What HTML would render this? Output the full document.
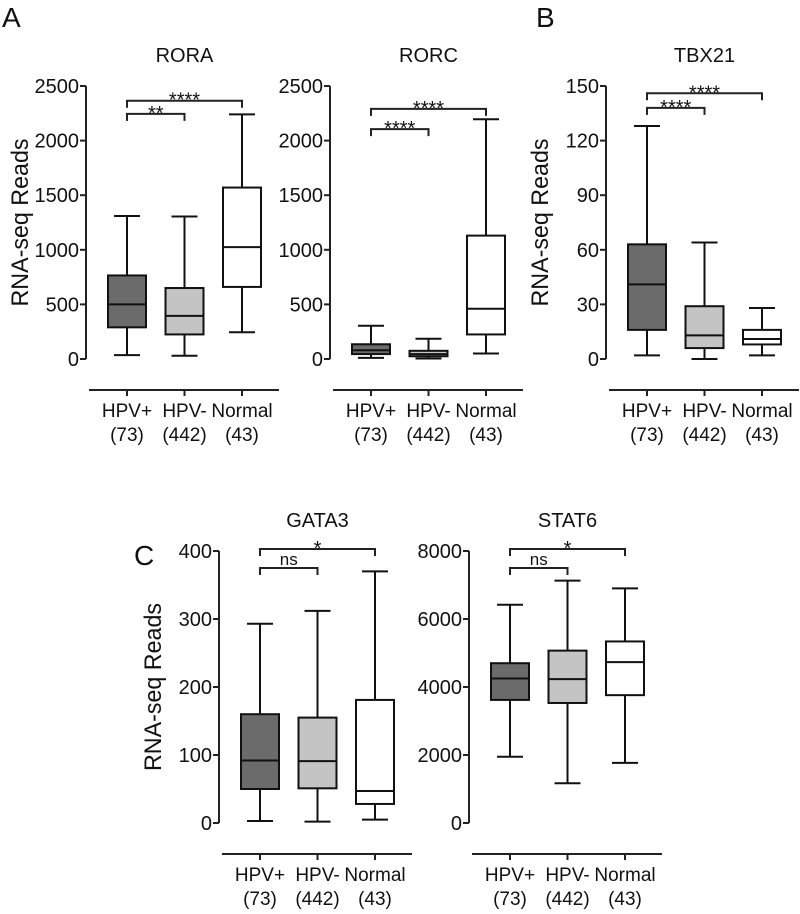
<!DOCTYPE html>
<html><head><meta charset="utf-8"><style>
html,body{margin:0;padding:0;background:#fff}
svg text{font-family:"Liberation Sans",Arial,sans-serif;fill:#111}
</style></head><body>
<svg id="chart" width="800" height="909" viewBox="0 0 800 909" xmlns="http://www.w3.org/2000/svg">
<text x="2" y="27" font-size="28">A</text>
<text x="536" y="27" font-size="28">B</text>
<text x="134" y="565" font-size="28">C</text>
</svg>
<script>
const categories = ["HPV+","HPV-","Normal"];
const counts = ["(73)","(442)","(43)"];
const fills = ["#6b6b6b","#c4c4c4","#ffffff"];
// [min, q1, median, q3, max]
const roraValues = [[35,290,500,765,1310],[30,225,395,650,1305],[245,660,1025,1570,2240]];
const rorcValues = [[10,45,80,135,305],[5,25,45,75,185],[50,225,460,1130,2195]];
const tbx21Values = [[2,16,41,63,128],[0,6,13,29,64],[2,8,11,16,28]];
const gata3Values = [[3,50,92,160,293],[2,51,91,155,312],[5,28,47,181,370]];
const stat6Values = [[1950,3620,4250,4700,6420],[1170,3530,4230,5070,7130],[1770,3760,4730,5340,6900]];
const roraTicks = [0,500,1000,1500,2000,2500];
const tbx21Ticks = [0,30,60,90,120,150];
const gata3Ticks = [0,100,200,300,400];
const stat6Ticks = [0,2000,4000,6000,8000];
// brackets: [fromIdx, toIdx, value, label]
const roraSig = [[0,2,2365,"****"],[0,1,2245,"**"]];
const rorcSig = [[0,2,2290,"****"],[0,1,2105,"****"]];
const tbx21Sig = [[0,2,146,"****"],[0,1,138,"****"]];
const gata3Sig = [[0,2,403,"*"],[0,1,375,"ns"]];
const stat6Sig = [[0,2,8060,"*"],[0,1,7500,"ns"]];

const svg = document.getElementById('chart');
const NS = "http://www.w3.org/2000/svg";
function mk(tag, attrs, parent){const e=document.createElementNS(NS,tag);for(const k in attrs)e.setAttribute(k,attrs[k]);(parent||svg).appendChild(e);return e;}

function panel(name, ax, y0, yTop, maxV, ticks, values, sig, title, ylabel){
  const g = mk('g',{});
  
  
  const ys = v => y0 - (v/maxV)*(y0-yTop);
  const xs = i => ax + 41 + i*57.5;
  const sw = 2;
  const t = mk('text',{x:xs(1),y:yTop-24,'font-size':20,'text-anchor':'middle'},g);
  t.textContent = title;
  
  
  if(ylabel){
    const yl = mk('text',{x:0,y:0,'font-size':24,'text-anchor':'middle',transform:`translate(${ax-58},${(y0+yTop)/2}) rotate(-90)`,textLength:168,lengthAdjust:'spacingAndGlyphs'},g);
    yl.textContent = "RNA-seq Reads";
    
    
  }
  const axl = mk('line',{x1:ax,y1:yTop,x2:ax,y2:y0,stroke:'#222','stroke-width':sw},g);
  
  
  ticks.forEach(tv=>{
    mk('line',{x1:ax-6,y1:ys(tv),x2:ax,y2:ys(tv),stroke:'#222','stroke-width':sw},g);
    const tl = mk('text',{x:ax-7,y:ys(tv)+7,'font-size':20,'text-anchor':'end'},g);
    tl.textContent = tv;
    
    
  });
  const bl = y0+31;
  const xa = mk('line',{x1:ax+3,y1:bl,x2:ax+193,y2:bl,stroke:'#222','stroke-width':sw},g);
  
  
  categories.forEach((c,i)=>{
    mk('line',{x1:xs(i),y1:bl,x2:xs(i),y2:bl+6,stroke:'#222','stroke-width':sw},g);
    const c1 = mk('text',{x:xs(i),y:bl+27,'font-size':19,'text-anchor':'middle'},g);
    c1.textContent = c;
    
    
    const c2 = mk('text',{x:xs(i),y:bl+51,'font-size':19,'text-anchor':'middle'},g);
    c2.textContent = counts[i];
    
    
  });
  values.forEach((v,i)=>{
    const x=xs(i), hw=19, cw=13;
    const bg = mk('g',{},g);
    
    
    mk('line',{x1:x,y1:ys(v[0]),x2:x,y2:ys(v[4]),stroke:'#111','stroke-width':sw},bg);
    mk('line',{x1:x-cw,y1:ys(v[0]),x2:x+cw,y2:ys(v[0]),stroke:'#111','stroke-width':sw},bg);
    mk('line',{x1:x-cw,y1:ys(v[4]),x2:x+cw,y2:ys(v[4]),stroke:'#111','stroke-width':sw},bg);
    mk('rect',{x:x-hw,y:ys(v[3]),width:2*hw,height:ys(v[1])-ys(v[3]),fill:fills[i],stroke:'#111','stroke-width':sw},bg);
    mk('line',{x1:x-hw,y1:ys(v[2]),x2:x+hw,y2:ys(v[2]),stroke:'#111','stroke-width':sw},bg);
  });
  sig.forEach(s=>{
    const y=ys(s[2]), x1=xs(s[0]), x2=xs(s[1]);
    const sg = mk('g',{},g);
    
    
    mk('polyline',{points:`${x1},${y+7} ${x1},${y} ${x2},${y} ${x2},${y+7}`,fill:'none',stroke:'#222','stroke-width':sw},sg);
    const st = mk('text',{x:(x1+x2)/2,y:s[3]==='ns'?y-3:y+6,'font-size':s[3]==='ns'?17:20,'text-anchor':'middle'},sg);
    st.textContent = s[3];
  });
}
panel('rora',86,359,86,2500,roraTicks,roraValues,roraSig,'RORA',true);
panel('rorc',330,359,86,2500,roraTicks,rorcValues,rorcSig,'RORC',false);
panel('tbx21',606,359,86,150,tbx21Ticks,tbx21Values,tbx21Sig,'TBX21',true);
panel('gata3',219,823,551,400,gata3Ticks,gata3Values,gata3Sig,'GATA3',true);
panel('stat6',469,823,551,8000,stat6Ticks,stat6Values,stat6Sig,'STAT6',false);
</script>
</body></html>
